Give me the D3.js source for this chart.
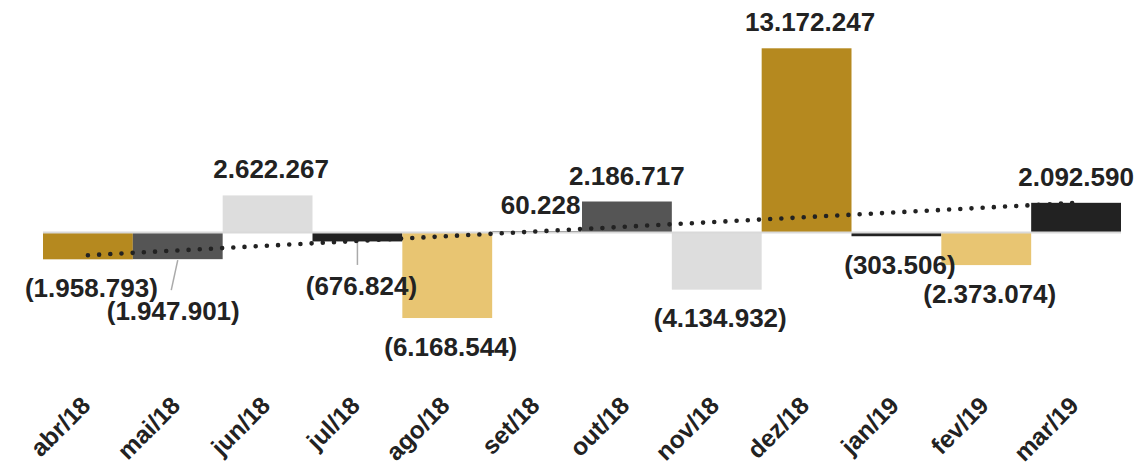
<!DOCTYPE html>
<html>
<head>
<meta charset="utf-8">
<script src="https://cdn.jsdelivr.net/npm/d3@7"></script>
<style>
  html, body { margin: 0; padding: 0; background: #fff; }
  svg { display: block; font-family: "Liberation Sans", Arial, sans-serif; }
</style>
</head>
<body>
<div id="chart"></div>
<script>
// monthly result (R$)
var months = ['abr/18', 'mai/18', 'jun/18', 'jul/18', 'ago/18', 'set/18',
              'out/18', 'nov/18', 'dez/18', 'jan/19', 'fev/19', 'mar/19'];
var values = [-1958793, -1947901, 2622267, -676824, -6168544, 60228,
              2186717, -4134932, 13172247, -303506, -2373074, 2092590];

// bar colours, one per month
var colors = ['#b5891f', '#555555', '#dddddd', '#222222', '#e8c572', '#555555',
              '#555555', '#dddddd', '#b5891f', '#222222', '#e8c572', '#222222'];

var width = 1148, height = 467;

var svg = d3.select('#chart').append('svg')
  .attr('width', width)
  .attr('height', height);

var x = d3.scaleBand()
  .domain(months)
  .range([43, 1121])
  .padding(0);

// zero sits at y=232, the december bar top at ~48
var y = d3.scaleLinear()
  .domain([0, d3.max(values)])
  .range([232, 48.3]);

var ptBR = d3.formatLocale({ decimal: ',', thousands: '.', grouping: [3], currency: ['R$', ''] });
var fmt = ptBR.format(',.0f');
var label = function (v) { return v < 0 ? '(' + fmt(-v) + ')' : fmt(v); };

var data = months.map(function (m, i) { return { month: m, value: values[i], color: colors[i] }; });

// bars
svg.append('g').selectAll('rect')
  .data(data)
  .enter().append('rect')
  .attr('x', function (d) { return x(d.month); })
  .attr('width', x.bandwidth())
  .attr('y', function (d) { return y(Math.max(0, d.value)); })
  .attr('height', function (d) { return Math.abs(y(d.value) - y(0)); })
  .attr('fill', function (d) { return d.color; });

// zero line
svg.append('line')
  .attr('x1', x.range()[0]).attr('x2', x.range()[1])
  .attr('y1', y(0) + 0.5).attr('y2', y(0) + 0.5)
  .attr('stroke', '#d9d9d9')
  .attr('stroke-width', 2);

// linear trend (least squares over the month index)
var n = values.length;
var mx = (n - 1) / 2, my = d3.mean(values);
var sxy = d3.sum(values, function (v, i) { return (i - mx) * (v - my); });
var sxx = d3.sum(values, function (v, i) { return (i - mx) * (i - mx); });
var slope = sxy / sxx, icept = my - slope * mx;
var cx = function (i) { return x(months[i]) + x.bandwidth() / 2; };

svg.append('line')
  .attr('x1', cx(0)).attr('y1', y(icept))
  .attr('x2', cx(n - 1)).attr('y2', y(icept + slope * (n - 1)))
  .attr('stroke', '#222')
  .attr('stroke-width', 4.6)
  .attr('stroke-linecap', 'round')
  .attr('stroke-dasharray', '0 11.2');

// hand-placed labels: [dx, dy, leader?]
var nudge = {
  'mai/18': [-4.5, 23.5, [0, 1, -6.5, 31]],
  'jul/18': [4, 16, [0, 1.5, 0, 23.5]],
  'out/18': [0, 0],
  'mar/19': [0, 0]
};

var lab = svg.append('g')
  .attr('font-size', 26)
  .attr('font-weight', 'bold')
  .attr('fill', '#222')
  .attr('text-anchor', 'middle');

data.forEach(function (d, i) {
  var nd = nudge[d.month] || [3.5, 0];
  var end = y(d.value);
  var base = d.value < 0 ? end + 37.5 : end - 17;
  if (nd[2]) {
    svg.append('line')
      .attr('x1', cx(i) + nd[2][0]).attr('y1', end + nd[2][1])
      .attr('x2', cx(i) + nd[2][2]).attr('y2', end + nd[2][3])
      .attr('stroke', '#aaa')
      .attr('stroke-width', 1.5);
  }
  lab.append('text')
    .attr('x', cx(i) + nd[0])
    .attr('y', base + nd[1])
    .text(label(d.value));
});

// month labels, rotated
svg.append('g').selectAll('text')
  .data(months)
  .enter().append('text')
  .attr('transform', function (m, i) { return 'translate(' + (cx(i) + 4) + ',407) rotate(-45)'; })
  .attr('text-anchor', 'end')
  .attr('font-size', 24.5)
  .attr('font-weight', 'bold')
  .attr('fill', '#222')
  .text(function (m) { return m; });
</script>
</body>
</html>
